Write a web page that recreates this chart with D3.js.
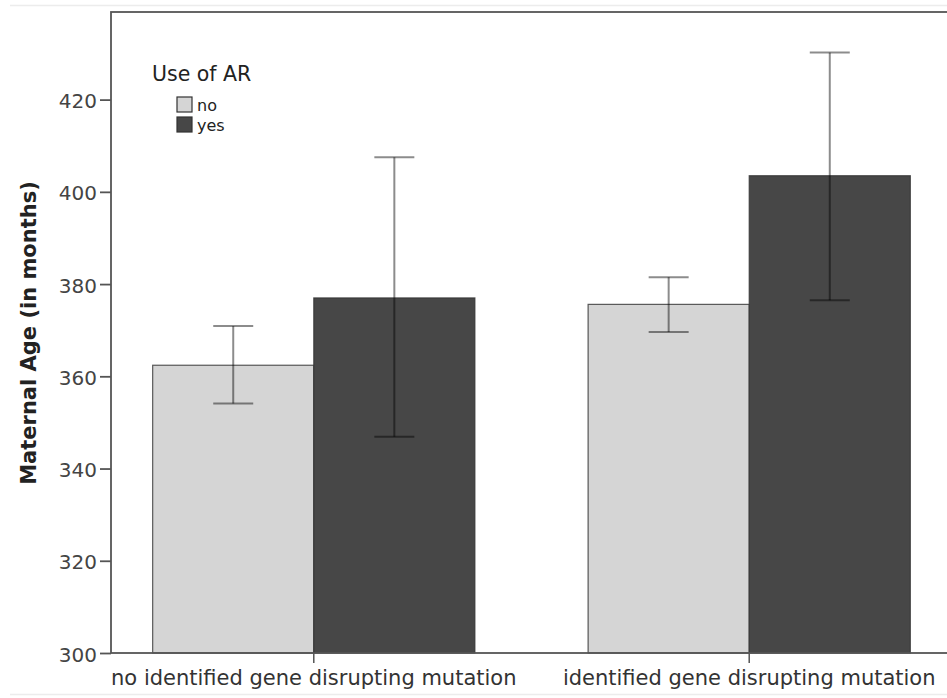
<!DOCTYPE html>
<html lang="en">
<head>
  <meta charset="UTF-8">
  <title>Maternal Age by Use of AR</title>
  <style>
    body, html {
      margin: 0;
      padding: 0;
      background: #fff;
      font-family: "DejaVu Sans", sans-serif;
    }
  </style>
</head>
<body>
  <svg id="svg" width="947" height="698"></svg>

  <script src="https://cdn.jsdelivr.net/npm/d3@7"></script>
  <script>
    // data
    const categories = ['no identified gene disrupting mutation', 'identified gene disrupting mutation'];
    const groups = ['no', 'yes'];
    const means = [[362.4, 377.0], [375.6, 403.5]];
    const lower = [[354.1, 346.9], [369.6, 376.5]];
    const upper = [[370.9, 407.5], [381.5, 430.2]];
    const yTicks = [300, 320, 340, 360, 380, 400, 420];

    const colors = { no: '#d5d5d5', yes: '#474747' };

    const rows = [];
    categories.forEach((c, i) => {
      groups.forEach((g, j) => {
        rows.push({ cat: c, group: g, mean: means[i][j], lo: lower[i][j], hi: upper[i][j] });
      });
    });

    const plot = { left: 111, top: 12, bottom: 653, right: 952 };

    const svg = d3.select('#svg');

    // faint screenshot edges
    svg.append('line').attr('x1', 10).attr('x2', 947).attr('y1', 5.5).attr('y2', 5.5)
      .attr('stroke', '#ececec').attr('stroke-width', 1.5);
    svg.append('line').attr('x1', 10).attr('x2', 947).attr('y1', 694.5).attr('y2', 694.5)
      .attr('stroke', '#ececec').attr('stroke-width', 1.5);

    const x0 = d3.scaleBand()
      .domain(categories)
      .range([plot.left, plot.right])
      .paddingInner(0.26)
      .paddingOuter(0.0957);

    const x1 = d3.scaleBand()
      .domain(groups)
      .range([0, x0.bandwidth()]);

    const y = d3.scaleLinear()
      .domain([300, 439])
      .range([plot.bottom, plot.top]);

    // bars
    svg.append('g')
      .selectAll('rect')
      .data(rows)
      .enter()
      .append('rect')
      .attr('x', d => x0(d.cat) + x1(d.group))
      .attr('y', d => y(d.mean))
      .attr('width', x1.bandwidth())
      .attr('height', d => y(300) - y(d.mean))
      .attr('fill', d => colors[d.group])
      .attr('stroke', '#333')
      .attr('stroke-opacity', 0.8)
      .attr('stroke-width', 1.2);

    // error bars
    const eb = svg.append('g')
      .attr('stroke', '#000')
      .attr('stroke-opacity', 0.45)
      .attr('stroke-width', 2);
    const cap = 20;
    rows.forEach(d => {
      const cx = x0(d.cat) + x1(d.group) + x1.bandwidth() / 2;
      eb.append('line').attr('x1', cx).attr('x2', cx).attr('y1', y(d.hi)).attr('y2', y(d.lo));
      eb.append('line').attr('x1', cx - cap).attr('x2', cx + cap).attr('y1', y(d.hi)).attr('y2', y(d.hi));
      eb.append('line').attr('x1', cx - cap).attr('x2', cx + cap).attr('y1', y(d.lo)).attr('y2', y(d.lo));
    });

    // frame
    svg.append('rect')
      .attr('x', plot.left)
      .attr('y', plot.top)
      .attr('width', plot.right - plot.left)
      .attr('height', plot.bottom - plot.top)
      .attr('fill', 'none')
      .attr('stroke', '#555')
      .attr('stroke-width', 1.8);

    // Y axis
    const yAxis = svg.append('g')
      .attr('transform', `translate(${plot.left},0)`)
      .call(d3.axisLeft(y).tickValues(yTicks).tickSize(11).tickPadding(3));
    yAxis.select('.domain').remove();
    yAxis.selectAll('line').attr('stroke', '#555').attr('stroke-width', 1.8);
    yAxis.selectAll('text')
      .attr('dy', '0.4em')
      .style('font-family', '"DejaVu Sans", sans-serif')
      .style('font-size', '20px')
      .attr('fill', '#444');

    // X axis
    const xAxis = svg.append('g')
      .attr('transform', `translate(0,${plot.bottom})`)
      .call(d3.axisBottom(x0).tickSize(10).tickPadding(7));
    xAxis.select('.domain').remove();
    xAxis.selectAll('line').attr('stroke', '#555').attr('stroke-width', 1.5);
    xAxis.selectAll('text')
      .style('font-family', '"DejaVu Sans", sans-serif')
      .style('font-size', '21px')
      .attr('fill', '#333');

    // Y axis label
    svg.append('text')
      .attr('transform', 'rotate(-90)')
      .attr('x', -333)
      .attr('y', 36)
      .attr('text-anchor', 'middle')
      .style('font-size', '21px')
      .style('font-weight', 'bold')
      .attr('fill', '#222')
      .text('Maternal Age (in months)');

    // legend
    const legend = svg.append('g');
    legend.append('text')
      .attr('x', 152)
      .attr('y', 81)
      .style('font-size', '20.5px')
      .attr('fill', '#222')
      .text('Use of AR');
    groups.forEach((g, i) => {
      legend.append('rect')
        .attr('x', 177)
        .attr('y', 97 + i * 20)
        .attr('width', 15)
        .attr('height', 15)
        .attr('fill', colors[g])
        .attr('stroke', '#333')
        .attr('stroke-width', 1.2);
      legend.append('text')
        .attr('x', 197)
        .attr('y', 111 + i * 20)
        .style('font-size', '16px')
        .attr('fill', '#222')
        .text(g);
    });
  </script>
</body>
</html>
